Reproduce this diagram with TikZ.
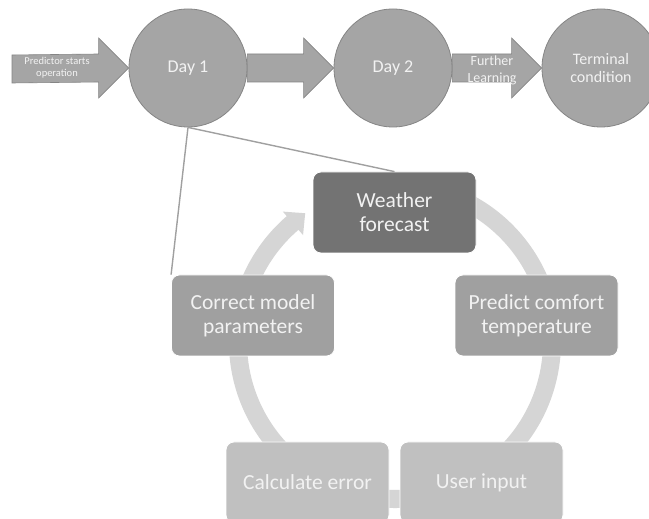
\documentclass[tikz,border=0pt]{standalone}
\usepackage{fontspec}
\setmainfont{Carlito}
\usetikzlibrary{calc}

\definecolor{circfill}{HTML}{A5A5A5}
\definecolor{circedge}{HTML}{858585}
\definecolor{darkbox}{HTML}{737373}
\definecolor{midbox}{HTML}{A0A0A0}
\definecolor{lightbox}{HTML}{C0C0C0}
\definecolor{ringgray}{HTML}{D5D5D5}
\definecolor{labeltext}{HTML}{F2F2F2}
\definecolor{linkgray}{HTML}{A0A0A0}

% horizontal block arrow from #1 to #2 (tip), head length #3
\newcommand\hblockarrow[3]{%
  \draw[blockarrow] ($(#1)+(0,14)$) -- ($(#2)+(-#3,14)$) -- ($(#2)+(-#3,30)$)
    -- (#2) -- ($(#2)+(-#3,-30)$) -- ($(#2)+(-#3,-14)$) -- ($(#1)+(0,-14)$) -- cycle;}

\begin{document}
\begin{tikzpicture}[x=1pt,y=1pt,
  daycircle/.style={circle, minimum size=118, inner sep=0, fill=circfill,
    draw=circedge, line width=0.8, text=labeltext, align=center},
  stagebox/.style={rectangle, rounded corners=8, minimum width=163,
    minimum height=81, inner sep=0, text=labeltext, align=center,
    draw=white, line width=0.8, font=\fontsize{21.5}{24}\selectfont},
  blockarrow/.style={fill=circfill, draw=circedge, line width=0.6},
  arrowtext/.style={text=labeltext, align=center, inner sep=0},
  link/.style={draw=linkgray, line width=1.4},
]
\useasboundingbox (0,0) rectangle (649,519);
\clip (0,0) rectangle (649,519);
\fill[white] (0,0) rectangle (649,519);

% ---- timeline ----
\coordinate (start) at (12,450);
\coordinate (day1pos) at (188,451);
\coordinate (day2pos) at (393,451);
\coordinate (termpos) at (601,451);

\path (day1pos) node[daycircle, draw=none, fill=none] (day1ghost) {};
\path (day2pos) node[daycircle, draw=none, fill=none] (day2ghost) {};
\path (termpos) node[daycircle, draw=none, fill=none] (termghost) {};

\hblockarrow{start}{day1ghost.west}{30}
\hblockarrow{day1ghost.east}{day2ghost.west}{30}
\hblockarrow{day2ghost.east}{termghost.west}{30}

\node[daycircle, font=\fontsize{18}{20}\selectfont] (day1) at (day1pos) {Day 1};
\node[daycircle, font=\fontsize{18}{20}\selectfont] (day2) at (day2pos) {Day 2};
\node[daycircle, font=\fontsize{16}{18}\selectfont] (term) at (termpos) {Terminal\\condition};

\node[arrowtext, font=\fontsize{10.5}{12}\selectfont] (startlbl) at (57,451) {Predictor starts\\operation};
\node[arrowtext, font=\fontsize{14}{17}\selectfont] (learnlbl) at (492,449) {Further\\Learning};

% ---- cycle ring with arrow head ----
\begin{scope}[shift={(395,177)}]
  \fill[ringgray] (80:166) arc[start angle=80, end angle=-229.3, radius=166]
    -- (-229.3:172) -- (-235.1:157) -- (-229.3:141) -- (-229.3:148)
    arc[start angle=-229.3, end angle=80, radius=148] -- cycle;
\end{scope}

% ---- cycle stages ----
\node[stagebox, fill=darkbox]  (wf)  at (394.5,306.5) {Weather\\forecast};
\node[stagebox, fill=midbox]   (cmp) at (253,203.5)   {Correct model\\parameters};
\node[stagebox, fill=midbox]   (pct) at (536.5,203.5) {Predict comfort\\temperature};
\node[stagebox, fill=lightbox] (err) at (307.5,36.5)  {Calculate error};
\node[stagebox, fill=lightbox] (usr) at (481.5,36.5)  {User input};

% ---- zoom lines from Day 1 into the cycle ----
\draw[link] (day1.south) -- (wf.north);
\draw[link] (day1.south) -- (cmp.north west);
\end{tikzpicture}
\end{document}
